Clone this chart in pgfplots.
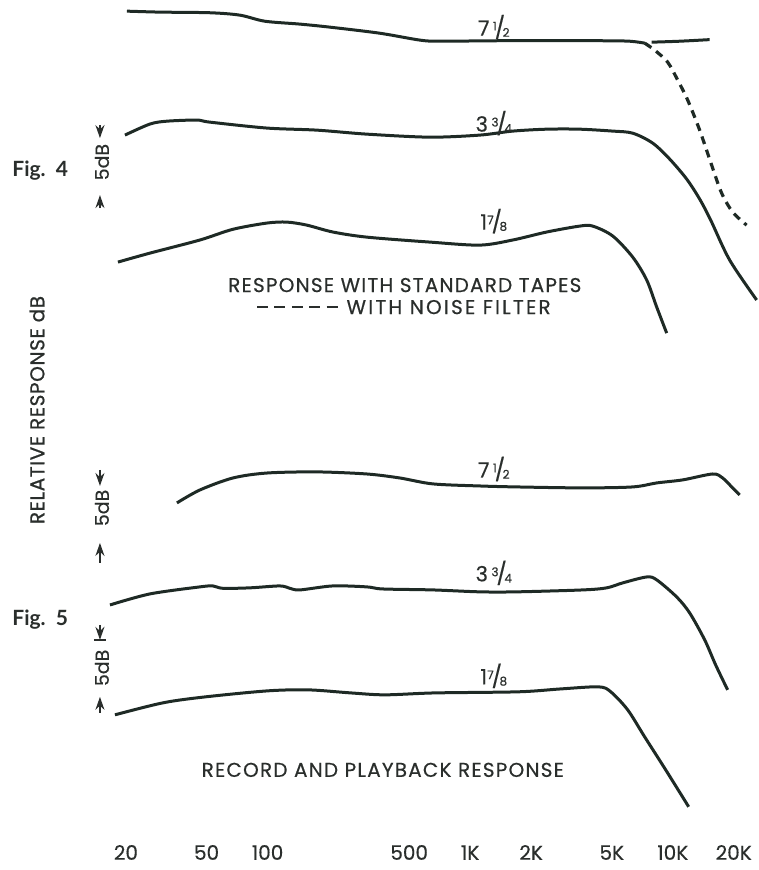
\documentclass[border=0pt]{standalone}
\usepackage{pgfplots}
\pgfplotsset{compat=1.18}
\usetikzlibrary{arrows.meta}
\usepackage{fontspec}
\setmainfont{Poppins}[FakeBold=0.4]
\newfontfamily\capfont[LetterSpace=6,FakeBold=0.5]{Poppins}
\newfontfamily\widefont[LetterSpace=11,FakeBold=0.5]{Poppins}
\newfontfamily\vfont[LetterSpace=3,FakeBold=0.8]{Poppins}
\newfontfamily\figfont{Lato}
\definecolor{ink}{HTML}{1E2A25}
\definecolor{txt}{HTML}{2A2E2C}
\newcommand\fr[2]{\raisebox{0.45ex}{\fontsize{6}{6}\selectfont #1}\kern-0.1em{\fontsize{11}{11}\selectfont/}\kern-0.12em\raisebox{-0.1ex}{\fontsize{6}{6}\selectfont #2}}
\newcommand\dsh{\rule[0.28em]{0.55em}{0.11em}}
\pgfplotsset{crv/.style={ink, line width=1.5pt, smooth, tension=0.5, no markers, solid}}
\begin{document}
\begin{tikzpicture}
\begin{axis}[
  scale only axis, width=378.5pt, height=435pt,
  xmode=log, xmin=4.779, xmax=25944, ymin=0, ymax=54.375,
  axis line style={draw=none}, ytick=\empty,
  xtick={20,50,100,500,1000,2000,5000,10000,20000},
  xticklabels={20,50,100,500,1K,2K,5K,10K,20K},
  major tick length=0pt, minor tick length=0pt,
  xticklabel style={font=\fontsize{10}{10}\selectfont, text=txt, anchor=base, yshift=5pt},
  clip=false,
]
% Fig. 4  -- 7 1/2
\addplot[crv] coordinates {(20.23,53.69) (29.43,53.63) (51.93,53.59) (73.03,53.44) (97.02,53.06) (144.4,52.88) (203.0,52.69) (358.2,52.31) (564.2,51.88) (708.2,51.81) (1400,51.84) (4360,51.84) (6130,51.81) (7270,51.69)};
\addplot[crv] coordinates {(7871,51.75) (10818,51.81) (15211,51.91)};
\addplot[crv, dash pattern=on 4pt off 3pt, line width=1.6pt] coordinates {(7270,51.69) (8143,51.25) (9440,50.50) (10576,49.38) (11848,48.13) (13578,46.25) (15560,44.06) (17432,42.31) (19752,41.13) (23152,40.31)};
% Fig. 4 -- 3 3/4
\addplot[crv] coordinates {(19.77,45.94) (26.26,46.63) (31.87,46.81) (44.80,46.88) (51.93,46.75) (99.25,46.38) (175.1,46.25) (309.0,46.00) (632.1,45.81) (1115.6,45.94) (1623,46.19) (2388,46.31) (3474,46.31) (5055,46.19) (6344,46.06) (7960,45.44) (9657,44.44) (11714,43.19) (13578,41.94) (15383,40.63) (19088,38.13) (25944,35.63)};
% Fig. 4 -- 1 7/8
\addplot[crv] coordinates {(18.26,38.0) (26.26,38.56) (46.35,39.38) (67.44,40.05) (99.25,40.44) (124.6,40.5) (156.3,40.31) (210.0,39.88) (309.0,39.56) (632.1,39.25) (1115.6,39.06) (1623,39.38) (2388,39.88) (3474,40.25) (4028,40.25) (5055,39.63) (6344,38.31) (7436,36.88) (8330,35.19) (9332,33.56)};
% Fig. 5 -- 7 1/2
\addplot[crv] coordinates {(35.70,22.94) (46.35,23.75) (67.44,24.5) (99.25,24.81) (175.1,24.88) (309.0,24.75) (449.5,24.5) (654.0,24.13) (1115.6,24.0) (1698,23.94) (3594,23.88) (6344,23.94) (8330,24.19) (11194,24.38) (15738,24.75) (17630,24.5) (19752,23.88) (21386,23.44)};
% Fig. 5 -- 3 3/4
\addplot[crv] coordinates {(16.68,16.56) (26.26,17.25) (46.35,17.69) (53.73,17.75) (60.20,17.6) (81.81,17.63) (115.0,17.75) (128.9,17.6) (144.4,17.5) (210.0,17.75) (309.0,17.69) (370.6,17.56) (654.0,17.5) (1115.6,17.38) (1698,17.38) (3594,17.5) (4722,17.63) (5662,17.94) (7436,18.31) (8330,18.13) (10456,17.06) (12121,16.06) (14372,14.38) (16284,12.81) (18660,11.25)};
% Fig. 5 -- 1 7/8
\addplot[crv] coordinates {(17.65,9.69) (30.45,10.44) (49.07,10.81) (100.4,11.19) (159.9,11.25) (257.7,11.06) (379.2,10.94) (669.0,11.06) (1737,11.13) (2799,11.31) (4311,11.44) (4942,11.13) (5992,10.0) (7270,8.31) (9228,6.25) (11983,3.94)};

% curve labels
\begin{scope}[every node/.style={text=txt, font=\fontsize{10.5}{11}\selectfont, inner sep=0pt}]
\node at (rel axis cs:0.6526,0.9690) {7\,\fr{1}{2}};
\node at (rel axis cs:0.6526,0.8586) {3\,\fr{3}{4}};
\node at (rel axis cs:0.6526,0.7460) {1\fr{7}{8}};
\node at (rel axis cs:0.6526,0.4609) {7\,\fr{1}{2}};
\node at (rel axis cs:0.6526,0.3414) {3\,\fr{3}{4}};
\node at (rel axis cs:0.6526,0.2230) {1\fr{7}{8}};
\end{scope}
% captions
\begin{scope}[every node/.style={text=txt, font=\capfont\fontsize{10}{11}\selectfont, inner sep=0pt}]
\node at (rel axis cs:0.5350,0.6724) {RESPONSE WITH STANDARD TAPES};
\node at (rel axis cs:0.5337,0.6471) {\dsh\hspace{0.32em}\dsh\hspace{0.32em}\dsh\hspace{0.32em}\dsh\hspace{0.32em}\dsh\hspace{0.45em}{\widefont WITH NOISE FILTER}};
\node at (rel axis cs:0.5059,0.1149) {RECORD AND PLAYBACK RESPONSE};
\node[rotate=90, font=\vfont\fontsize{10}{10}\selectfont] at (rel axis cs:0.0489,0.5287) {RELATIVE RESPONSE dB};
\node[anchor=west, font=\figfont\bfseries\fontsize{10.5}{11}\selectfont] at (rel axis cs:0.0159,0.8046) {Fig.\ \ 4};
\node[anchor=west, font=\figfont\bfseries\fontsize{10.5}{11}\selectfont] at (rel axis cs:0.0159,0.2874) {Fig.\ \ 5};
\node[rotate=90, font=\fontsize{9.5}{10}\selectfont] at (rel axis cs:0.1347,0.8138) {5dB};
\node[rotate=90, font=\fontsize{9.5}{10}\selectfont] at (rel axis cs:0.1347,0.4161) {5dB};
\node[rotate=90, font=\fontsize{9.5}{10}\selectfont] at (rel axis cs:0.1347,0.2322) {5dB};
\end{scope}
% 5 dB markers
\begin{scope}[txt, line width=0.9pt, -{Stealth[length=6.5pt,width=4.5pt]}]
\draw (rel axis cs:0.1321,0.8563) -- (rel axis cs:0.1321,0.8414);
\draw (rel axis cs:0.1321,0.7609) -- (rel axis cs:0.1321,0.7759);
\draw (rel axis cs:0.1321,0.4598) -- (rel axis cs:0.1321,0.4414);
\draw (rel axis cs:0.1321,0.3529) -- (rel axis cs:0.1321,0.3759);
\draw (rel axis cs:0.1321,0.2816) -- (rel axis cs:0.1321,0.2644);
\draw (rel axis cs:0.1321,0.1805) -- (rel axis cs:0.1321,0.1989);
\end{scope}
\draw[txt, line width=0.9pt] (rel axis cs:0.1242,0.2644) -- (rel axis cs:0.1400,0.2644);
\end{axis}
\end{tikzpicture}
\end{document}
